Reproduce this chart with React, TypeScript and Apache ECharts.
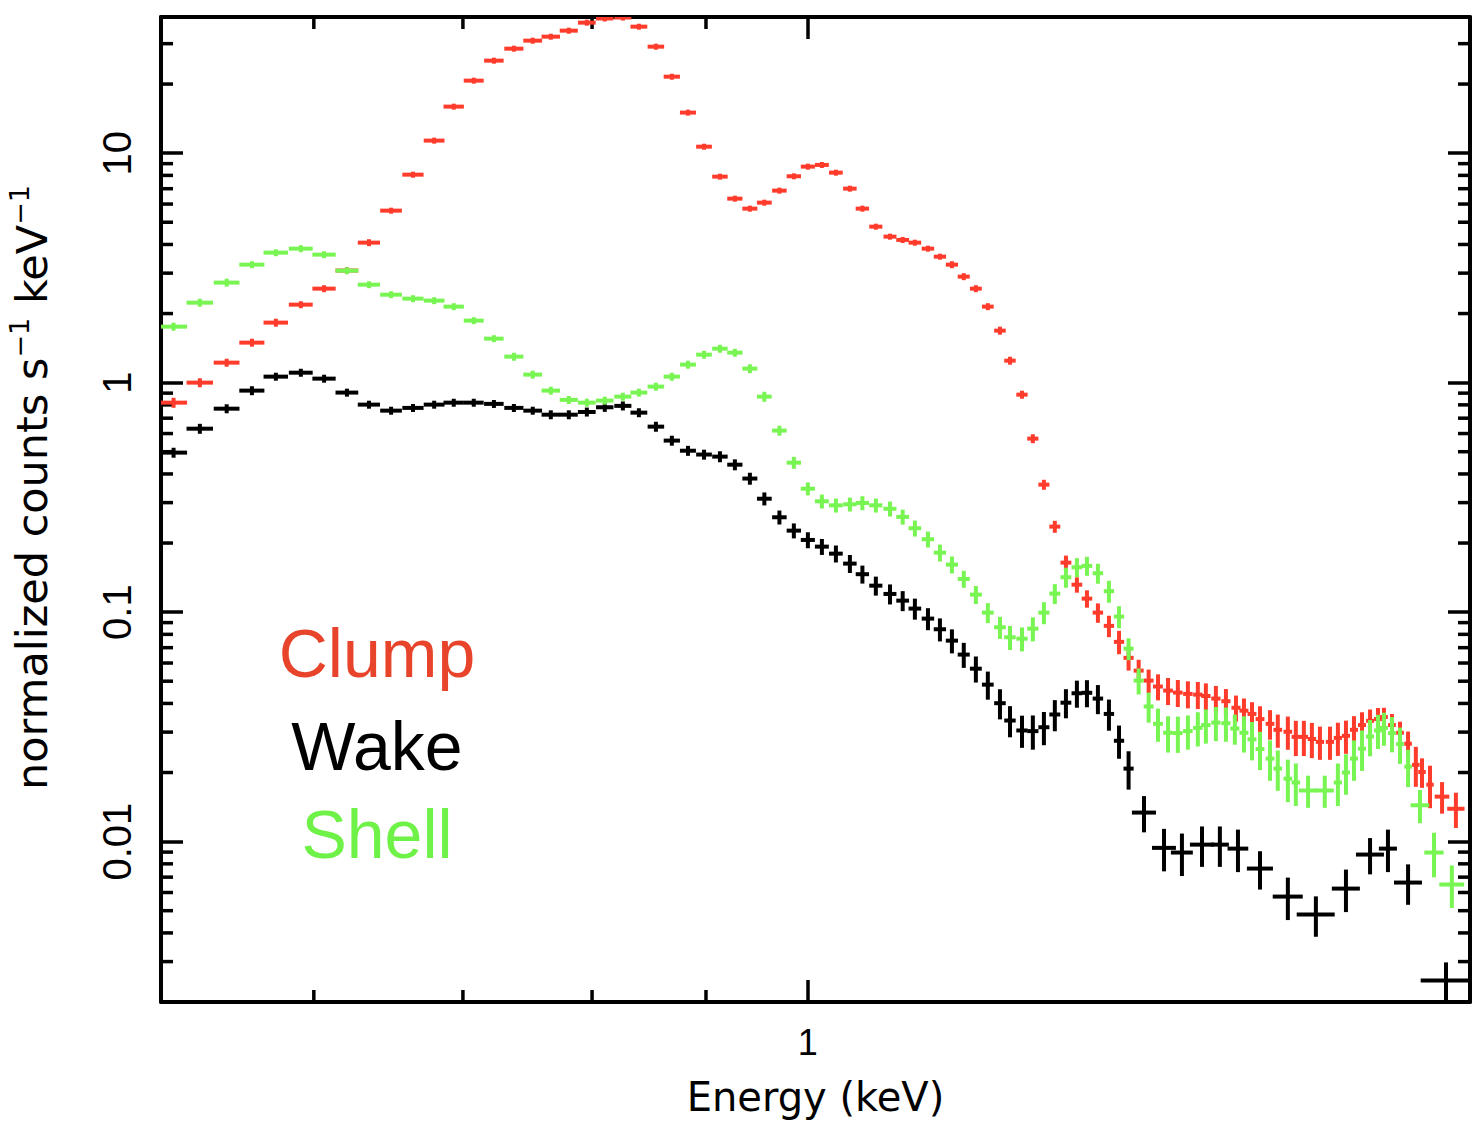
import React, { useEffect, useRef } from "react";
import * as echarts from "echarts";

// ---------- axes ----------
const X_MIN = 0.5123;
const X_MAX = 1.983;
const Y_MIN = 0.002;
const Y_MAX = 39.2;
const X_MINOR_TICKS = [0.6, 0.7, 0.8, 0.9];
const Y_MINOR_TICKS = [
  0.003, 0.004, 0.005, 0.006, 0.007, 0.008, 0.009,
  0.02, 0.03, 0.04, 0.05, 0.06, 0.07, 0.08, 0.09,
  0.2, 0.3, 0.4, 0.5, 0.6, 0.7, 0.8, 0.9,
  2, 3, 4, 5, 6, 7, 8, 9,
  20, 30,
];

// ---------- Clump (red) ----------
const clumpEnergy = [
  0.5190, 0.5333, 0.5483, 0.5628, 0.5769, 0.5920, 0.6064, 0.6209, 0.6352, 0.6499,
  0.6648, 0.6795, 0.6934, 0.7079, 0.7228, 0.7379, 0.7524, 0.7666, 0.7810, 0.7957,
  0.8106, 0.8259, 0.8397, 0.8546, 0.8688, 0.8834, 0.8982, 0.9131, 0.9273, 0.9418,
  0.9560, 0.9710, 0.9856, 1.0000, 1.0146, 1.0294, 1.0444, 1.0580, 1.0728, 1.0886,
  1.1030, 1.1170, 1.1322, 1.1463, 1.1606, 1.1749, 1.1897, 1.2045, 1.2197, 1.2324,
  1.2478, 1.2619, 1.2764, 1.2909, 1.3058, 1.3207, 1.3345, 1.3497, 1.3652, 1.3795,
  1.3932, 1.4078, 1.4224, 1.4362, 1.4512, 1.4660, 1.4813, 1.4966, 1.5091, 1.5248,
  1.5407, 1.5568, 1.5697, 1.5828, 1.5960, 1.6126, 1.6256, 1.6426, 1.6562, 1.6700,
  1.6839, 1.6980, 1.7157, 1.7298, 1.7443, 1.7588, 1.7735, 1.7883, 1.8030, 1.8142,
  1.8293, 1.8446, 1.8600, 1.8750, 1.8870, 1.9027, 1.9265, 1.9543,
];
const clumpHalfWidth = [
  0.0073, 0.0073, 0.0073, 0.0073, 0.0073, 0.0073, 0.0073, 0.0073, 0.0073, 0.0073,
  0.0073, 0.0073, 0.0073, 0.0073, 0.0073, 0.0073, 0.0073, 0.0073, 0.0073, 0.0073,
  0.0073, 0.0073, 0.0073, 0.0073, 0.0073, 0.0073, 0.0073, 0.0073, 0.0073, 0.0073,
  0.0073, 0.0073, 0.0073, 0.0073, 0.0073, 0.0073, 0.0073, 0.0073, 0.0073, 0.0073,
  0.0073, 0.0073, 0.0073, 0.0073, 0.0073, 0.0073, 0.0073, 0.0073, 0.0073, 0.0073,
  0.0073, 0.0073, 0.0073, 0.0073, 0.0073, 0.0073, 0.0073, 0.0073, 0.0073, 0.0073,
  0.0073, 0.0073, 0.0073, 0.0073, 0.0073, 0.0073, 0.0073, 0.0073, 0.0073, 0.0073,
  0.0073, 0.0073, 0.0073, 0.0073, 0.0073, 0.0073, 0.0073, 0.0073, 0.0073, 0.0073,
  0.0073, 0.0073, 0.0073, 0.0073, 0.0073, 0.0073, 0.0073, 0.0073, 0.0073, 0.0073,
  0.0073, 0.0073, 0.0073, 0.0073, 0.0073, 0.0073, 0.0146, 0.0175,
];
const clumpCounts = [
  0.818, 1.0, 1.222, 1.494, 1.826, 2.187, 2.568, 3.08, 4.074, 5.617,
  8.058, 11.34, 15.95, 20.7, 25.3, 28.53, 30.92, 32.18, 34.18, 37.04,
  38.63, 39.0, 35.58, 29.11, 21.54, 15.02, 10.67, 7.9, 6.335, 5.731,
  6.086, 6.866, 7.93, 8.735, 8.885, 8.224, 7.005, 5.731, 4.783, 4.327,
  4.186, 4.074, 3.836, 3.54, 3.267, 2.897, 2.568, 2.144, 1.685, 1.247,
  0.8865, 0.5702, 0.3593, 0.2358, 0.1643, 0.1317, 0.1145, 0.0995, 0.0871, 0.0742,
  0.0632, 0.0556, 0.0503, 0.0474, 0.0455, 0.0446, 0.044, 0.0437, 0.0431, 0.042,
  0.0409, 0.0383, 0.0372, 0.036, 0.0342, 0.0326, 0.0307, 0.0301, 0.0286, 0.0286,
  0.028, 0.0272, 0.0272, 0.0283, 0.0289, 0.0307, 0.0322, 0.0336, 0.0342, 0.0349,
  0.0322, 0.0298, 0.0267, 0.0216, 0.0201, 0.0177, 0.0157, 0.0139,
];
const clumpRelError = [
  0.05, 0.045, 0.04, 0.04, 0.04, 0.035, 0.035, 0.035, 0.035, 0.03,
  0.03, 0.03, 0.03, 0.03, 0.03, 0.03, 0.03, 0.03, 0.03, 0.03,
  0.03, 0.03, 0.03, 0.03, 0.03, 0.03, 0.03, 0.03, 0.03, 0.03,
  0.03, 0.03, 0.03, 0.03, 0.03, 0.03, 0.03, 0.03, 0.03, 0.03,
  0.03, 0.03, 0.03, 0.03, 0.035, 0.035, 0.035, 0.035, 0.04, 0.04,
  0.04, 0.045, 0.05, 0.06, 0.073, 0.077, 0.087, 0.097, 0.107, 0.117,
  0.12, 0.115, 0.117, 0.13, 0.135, 0.135, 0.135, 0.135, 0.135, 0.135,
  0.13, 0.13, 0.13, 0.125, 0.137, 0.147, 0.165, 0.165, 0.175, 0.175,
  0.175, 0.165, 0.165, 0.165, 0.165, 0.147, 0.137, 0.12, 0.117, 0.097,
  0.117, 0.117, 0.13, 0.198, 0.147, 0.21, 0.157, 0.175,
];

// ---------- Wake (black) ----------
const wakeEnergy = [
  0.5190, 0.5333, 0.5483, 0.5628, 0.5769, 0.5920, 0.6064, 0.6209, 0.6352, 0.6499,
  0.6648, 0.6795, 0.6934, 0.7079, 0.7228, 0.7379, 0.7524, 0.7666, 0.7810, 0.7957,
  0.8106, 0.8259, 0.8397, 0.8546, 0.8688, 0.8834, 0.8982, 0.9131, 0.9273, 0.9418,
  0.9560, 0.9710, 0.9856, 1.0000, 1.0146, 1.0294, 1.0444, 1.0580, 1.0728, 1.0886,
  1.1030, 1.1170, 1.1322, 1.1463, 1.1606, 1.1749, 1.1897, 1.2045, 1.2197, 1.2324,
  1.2478, 1.2619, 1.2764, 1.2909, 1.3058, 1.3207, 1.3345, 1.3497, 1.3652, 1.3795,
  1.3932, 1.4156, 1.4452, 1.4722, 1.5031, 1.5311, 1.5600, 1.5960, 1.6426, 1.6909,
  1.7443, 1.7883, 1.8217, 1.8600, 1.9344,
];
const wakeHalfWidth = [
  0.0073, 0.0073, 0.0073, 0.0073, 0.0073, 0.0073, 0.0073, 0.0073, 0.0073, 0.0073,
  0.0073, 0.0073, 0.0073, 0.0073, 0.0073, 0.0073, 0.0073, 0.0073, 0.0073, 0.0073,
  0.0073, 0.0073, 0.0073, 0.0073, 0.0073, 0.0073, 0.0073, 0.0073, 0.0073, 0.0073,
  0.0073, 0.0073, 0.0073, 0.0073, 0.0073, 0.0073, 0.0073, 0.0073, 0.0073, 0.0073,
  0.0073, 0.0073, 0.0073, 0.0073, 0.0073, 0.0073, 0.0073, 0.0073, 0.0073, 0.0073,
  0.0073, 0.0073, 0.0073, 0.0073, 0.0073, 0.0073, 0.0073, 0.0073, 0.0073, 0.0073,
  0.0073, 0.0176, 0.0179, 0.0167, 0.0187, 0.0143, 0.0167, 0.0215, 0.0255, 0.0332,
  0.0253, 0.0259, 0.017, 0.0269, 0.05,
];
const wakeCounts = [
  0.4955, 0.63, 0.77, 0.923, 1.062, 1.105, 1.041, 0.905, 0.802, 0.755,
  0.776, 0.802, 0.818, 0.818, 0.808, 0.776, 0.755, 0.725, 0.725, 0.745,
  0.781, 0.792, 0.74, 0.643, 0.559, 0.505, 0.486, 0.476, 0.439, 0.382,
  0.312, 0.259, 0.2265, 0.2063, 0.1929, 0.1798, 0.1627, 0.1463, 0.1304, 0.12,
  0.1122, 0.1036, 0.0937, 0.0842, 0.0751, 0.0653, 0.0567, 0.0483, 0.0401, 0.0337,
  0.0305, 0.0303, 0.0315, 0.0358, 0.0403, 0.0443, 0.0445, 0.042, 0.036, 0.0275,
  0.0208, 0.01338, 0.00939, 0.00896, 0.0097, 0.0097, 0.00932, 0.00763, 0.00576, 0.00481,
  0.00624, 0.00878, 0.00932, 0.00663, 0.00248,
];
const wakeRelError = [
  0.05, 0.05, 0.045, 0.045, 0.04, 0.04, 0.04, 0.04, 0.04, 0.04,
  0.04, 0.04, 0.04, 0.04, 0.04, 0.04, 0.04, 0.045, 0.045, 0.045,
  0.045, 0.045, 0.045, 0.05, 0.05, 0.05, 0.05, 0.055, 0.055, 0.06,
  0.065, 0.07, 0.075, 0.08, 0.08, 0.085, 0.09, 0.09, 0.095, 0.1,
  0.1, 0.105, 0.11, 0.115, 0.12, 0.125, 0.13, 0.14, 0.15, 0.155,
  0.16, 0.17, 0.165, 0.155, 0.145, 0.135, 0.135, 0.145, 0.155, 0.165,
  0.19, 0.18, 0.21, 0.21, 0.2, 0.2, 0.21, 0.19, 0.21, 0.2,
  0.21, 0.18, 0.21, 0.2, 0.2,
];

// ---------- Shell (green) ----------
const shellEnergy = [
  0.5190, 0.5333, 0.5483, 0.5628, 0.5769, 0.5920, 0.6064, 0.6209, 0.6352, 0.6499,
  0.6648, 0.6795, 0.6934, 0.7079, 0.7228, 0.7379, 0.7524, 0.7666, 0.7810, 0.7957,
  0.8106, 0.8259, 0.8397, 0.8546, 0.8688, 0.8834, 0.8982, 0.9131, 0.9273, 0.9418,
  0.9560, 0.9710, 0.9856, 1.0000, 1.0146, 1.0294, 1.0444, 1.0580, 1.0728, 1.0886,
  1.1030, 1.1170, 1.1322, 1.1463, 1.1606, 1.1749, 1.1897, 1.2045, 1.2197, 1.2324,
  1.2478, 1.2619, 1.2764, 1.2909, 1.3058, 1.3207, 1.3345, 1.3497, 1.3652, 1.3795,
  1.3932, 1.4078, 1.4224, 1.4362, 1.4512, 1.4660, 1.4813, 1.4966, 1.5091, 1.5248,
  1.5407, 1.5550, 1.5697, 1.5828, 1.5960, 1.6126, 1.6256, 1.6426, 1.6562, 1.6773,
  1.7065, 1.7298, 1.7443, 1.7588, 1.7735, 1.7883, 1.8030, 1.8142, 1.8293, 1.8446,
  1.8600, 1.8830, 1.9105, 1.9461,
];
const shellHalfWidth = [
  0.0073, 0.0073, 0.0073, 0.0073, 0.0073, 0.0073, 0.0073, 0.0073, 0.0073, 0.0073,
  0.0073, 0.0073, 0.0073, 0.0073, 0.0073, 0.0073, 0.0073, 0.0073, 0.0073, 0.0073,
  0.0073, 0.0073, 0.0073, 0.0073, 0.0073, 0.0073, 0.0073, 0.0073, 0.0073, 0.0073,
  0.0073, 0.0073, 0.0073, 0.0073, 0.0073, 0.0073, 0.0073, 0.0073, 0.0073, 0.0073,
  0.0073, 0.0073, 0.0073, 0.0073, 0.0073, 0.0073, 0.0073, 0.0073, 0.0073, 0.0073,
  0.0073, 0.0073, 0.0073, 0.0073, 0.0073, 0.0073, 0.0073, 0.0073, 0.0073, 0.0073,
  0.0073, 0.0073, 0.0073, 0.0073, 0.0073, 0.0073, 0.0073, 0.0073, 0.0073, 0.0073,
  0.0073, 0.0073, 0.0073, 0.0073, 0.0073, 0.0073, 0.0073, 0.0073, 0.0073, 0.016,
  0.016, 0.0073, 0.0073, 0.0073, 0.0073, 0.0073, 0.0073, 0.0073, 0.0073, 0.0073,
  0.0073, 0.018, 0.019, 0.025,
];
const shellCounts = [
  1.754, 2.231, 2.728, 3.267, 3.685, 3.836, 3.612, 3.076, 2.673, 2.417,
  2.323, 2.277, 2.144, 1.863, 1.555, 1.298, 1.084, 0.923, 0.841, 0.818,
  0.835, 0.869, 0.905, 0.961, 1.062, 1.198, 1.324, 1.406, 1.351, 1.151,
  0.869, 0.618, 0.448, 0.345, 0.304, 0.292, 0.295, 0.299, 0.292, 0.282,
  0.26, 0.232, 0.2078, 0.1816, 0.1611, 0.1395, 0.1192, 0.0995, 0.0859, 0.0777,
  0.0766, 0.0847, 0.0995, 0.1204, 0.1419, 0.1569, 0.159, 0.1477, 0.1234, 0.0956,
  0.0693, 0.0503, 0.0388, 0.0326, 0.0298, 0.0297, 0.0303, 0.0313, 0.0322, 0.033,
  0.0328, 0.0311, 0.0298, 0.0279, 0.0253, 0.023, 0.0208, 0.0188, 0.0181, 0.0167,
  0.0167, 0.0181, 0.02, 0.023, 0.0254, 0.0287, 0.0305, 0.0313, 0.0297, 0.0266,
  0.0212, 0.0144, 0.00896, 0.0065,
];
const shellRelError = [
  0.04, 0.04, 0.04, 0.035, 0.035, 0.035, 0.035, 0.035, 0.035, 0.035,
  0.035, 0.035, 0.035, 0.035, 0.035, 0.04, 0.04, 0.04, 0.04, 0.04,
  0.04, 0.04, 0.04, 0.04, 0.04, 0.04, 0.04, 0.04, 0.04, 0.045,
  0.05, 0.05, 0.06, 0.065, 0.07, 0.07, 0.07, 0.07, 0.07, 0.075,
  0.075, 0.08, 0.08, 0.085, 0.085, 0.085, 0.09, 0.1, 0.11, 0.12,
  0.12, 0.12, 0.11, 0.1, 0.1, 0.095, 0.095, 0.1, 0.11, 0.11,
  0.11, 0.13, 0.15, 0.165, 0.18, 0.18, 0.17, 0.17, 0.17, 0.17,
  0.17, 0.15, 0.18, 0.19, 0.19, 0.2, 0.2, 0.21, 0.21, 0.16,
  0.16, 0.21, 0.2, 0.2, 0.2, 0.18, 0.17, 0.165, 0.175, 0.18,
  0.185, 0.165, 0.22, 0.21,
];

// ---------- legend labels ----------
const LEGEND_LABELS = ["Clump", "Wake", "Shell"];

const RED = "#ff3b2b";
const GREEN = "#78f552";
const BLACK = "#000000";

function errorSeries(
  name: string,
  color: string,
  energy: number[],
  halfWidth: number[],
  counts: number[],
  relErr: number[]
) {
  const data = energy.map((e, i) => [e, counts[i], halfWidth[i], relErr[i]]);
  return {
    type: "custom",
    name,
    data,
    clip: true,
    encode: { x: 0, y: 1 },
    renderItem: (_params: any, api: any) => {
      const e = api.value(0);
      const v = api.value(1);
      const hw = api.value(2);
      const re = api.value(3);
      const l = api.coord([e - hw, v]);
      const r = api.coord([e + hw, v]);
      const t = api.coord([e, v * (1 + re)]);
      const b = api.coord([e, v * (1 - re)]);
      const style = { stroke: color, lineWidth: 4, fill: null, lineCap: "butt" };
      return {
        type: "group",
        children: [
          { type: "line", shape: { x1: l[0], y1: l[1], x2: r[0], y2: r[1] }, style },
          { type: "line", shape: { x1: t[0], y1: t[1], x2: b[0], y2: b[1] }, style },
        ],
      };
    },
  };
}

const TICK_STYLE = { stroke: "#000", lineWidth: 3.5, lineCap: "butt" };
const MINOR_LEN = 12;

const xMinorSeries = {
  type: "custom",
  silent: true,
  data: X_MINOR_TICKS.map((v) => [v, 1]),
  encode: { x: 0, y: 1 },
  renderItem: (params: any, api: any) => {
    const cs = params.coordSys;
    const p = api.coord([api.value(0), 1]);
    const bottom = cs.y + cs.height;
    return {
      type: "group",
      children: [
        { type: "line", shape: { x1: p[0], y1: bottom, x2: p[0], y2: bottom - MINOR_LEN }, style: TICK_STYLE },
        { type: "line", shape: { x1: p[0], y1: cs.y, x2: p[0], y2: cs.y + MINOR_LEN }, style: TICK_STYLE },
      ],
    };
  },
};

const yMinorSeries = {
  type: "custom",
  silent: true,
  data: Y_MINOR_TICKS.map((v) => [1, v]),
  encode: { x: 0, y: 1 },
  renderItem: (params: any, api: any) => {
    const cs = params.coordSys;
    const p = api.coord([1, api.value(1)]);
    const right = cs.x + cs.width;
    return {
      type: "group",
      children: [
        { type: "line", shape: { x1: cs.x, y1: p[1], x2: cs.x + MINOR_LEN, y2: p[1] }, style: TICK_STYLE },
        { type: "line", shape: { x1: right, y1: p[1], x2: right - MINOR_LEN, y2: p[1] }, style: TICK_STYLE },
      ],
    };
  },
};

const fmt = (v: number) => (v >= 1 ? String(Math.round(v)) : String(Number(v.toPrecision(1))));

const axisLineCfg = { show: true, onZero: false, lineStyle: { color: "#000", width: 4 } };
const axisTickCfg = { show: true, inside: true, length: 22, lineStyle: { color: "#000", width: 3.5 } };

const option: any = {
  animation: false,
  backgroundColor: "#ffffff",
  grid: {
    left: 161,
    right: 14,
    top: 17,
    bottom: 128,
    containLabel: false,
    outerBoundsMode: "none",
  },
  xAxis: [
    {
      type: "log",
      logBase: 10,
      min: X_MIN,
      max: X_MAX,
      position: "bottom",
      axisLine: axisLineCfg,
      axisTick: axisTickCfg,
      splitLine: { show: false },
      minorTick: { show: false },
      axisLabel: {
        show: true,
        showMinLabel: false,
        showMaxLabel: false,
        margin: 22,
        color: "#000",
        fontSize: 36,
        fontFamily: "Liberation Sans",
        formatter: fmt,
      },
      name: "Energy (keV)",
      nameLocation: "middle",
      nameGap: 75,
      nameTextStyle: { color: "#000", fontSize: 40, fontFamily: "DejaVu Sans" },
    },
    {
      type: "log",
      logBase: 10,
      min: X_MIN,
      max: X_MAX,
      position: "top",
      axisLine: axisLineCfg,
      axisTick: axisTickCfg,
      splitLine: { show: false },
      axisLabel: { show: false },
    },
  ],
  yAxis: [
    {
      type: "log",
      logBase: 10,
      min: Y_MIN,
      max: Y_MAX,
      position: "left",
      axisLine: axisLineCfg,
      axisTick: axisTickCfg,
      splitLine: { show: false },
      axisLabel: {
        show: true,
        showMinLabel: false,
        showMaxLabel: false,
        rotate: 90,
        margin: 24,
        color: "#000",
        fontSize: 40,
        fontFamily: "Liberation Sans",
        formatter: fmt,
      },
      name: "{m|normalized counts s}{s|\u22121}{m| keV}{s|\u22121}",
      nameLocation: "middle",
      nameGap: 108,
      nameTextStyle: {
        color: "#000",
        fontSize: 43,
        fontFamily: "DejaVu Sans",
        padding: [0, 0, 0, 44],
        rich: {
          m: { fontSize: 43, fontFamily: "DejaVu Sans", color: "#000", lineHeight: 47, verticalAlign: "bottom" },
          s: { fontSize: 27, fontFamily: "DejaVu Sans", color: "#000", lineHeight: 27, verticalAlign: "top" },
        },
      },
    },
    {
      type: "log",
      logBase: 10,
      min: Y_MIN,
      max: Y_MAX,
      position: "right",
      axisLine: axisLineCfg,
      axisTick: axisTickCfg,
      splitLine: { show: false },
      axisLabel: { show: false },
    },
  ],
  graphic: [
    {
      type: "text",
      x: 377,
      y: 653,
      style: {
        text: LEGEND_LABELS[0],
        fill: "#e8442c",
        font: '68px "Liberation Sans"',
        textAlign: "center",
        textVerticalAlign: "middle",
        align: "center",
        verticalAlign: "middle",
      },
    },
    {
      type: "text",
      x: 377,
      y: 746,
      style: {
        text: LEGEND_LABELS[1],
        fill: "#000000",
        font: '68px "Liberation Sans"',
        textAlign: "center",
        textVerticalAlign: "middle",
        align: "center",
        verticalAlign: "middle",
      },
    },
    {
      type: "text",
      x: 377,
      y: 834,
      style: {
        text: LEGEND_LABELS[2],
        fill: "#6ef247",
        font: '68px "Liberation Sans"',
        textAlign: "center",
        textVerticalAlign: "middle",
        align: "center",
        verticalAlign: "middle",
      },
    },
  ],
  series: [
    xMinorSeries,
    yMinorSeries,
    errorSeries("Wake", BLACK, wakeEnergy, wakeHalfWidth, wakeCounts, wakeRelError),
    errorSeries("Clump", RED, clumpEnergy, clumpHalfWidth, clumpCounts, clumpRelError),
    errorSeries("Shell", GREEN, shellEnergy, shellHalfWidth, shellCounts, shellRelError),
  ],
};

export default function App() {
  const ref = useRef<HTMLDivElement>(null);
  useEffect(() => {
    if (!ref.current) return;
    const chart = echarts.init(ref.current, undefined, { renderer: "svg" });
    chart.setOption(option);
    return () => chart.dispose();
  }, []);
  return (
    <div
      ref={ref}
      style={{ position: "absolute", left: 0, top: 0, width: 1484, height: 1130, background: "#fff" }}
    />
  );
}
